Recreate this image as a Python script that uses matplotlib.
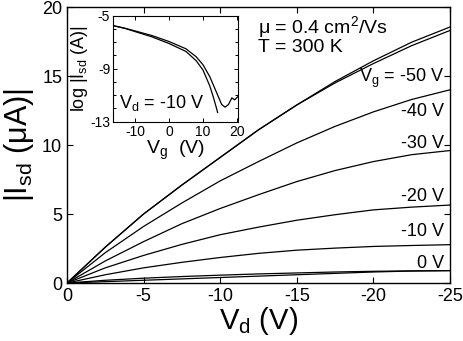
import matplotlib
matplotlib.use('Agg')
import matplotlib.pyplot as plt
from matplotlib.ticker import MultipleLocator

plt.rcParams['font.family'] = ['Liberation Sans', 'DejaVu Sans']
plt.rcParams['mathtext.fontset'] = 'custom'
plt.rcParams['mathtext.rm'] = 'Liberation Sans'
plt.rcParams['mathtext.it'] = 'Liberation Sans'
plt.rcParams['axes.unicode_minus'] = False

# output curves, |Isd| (uA) vs Vd (V)
vd = [0, -2.5, -5, -7.5, -10, -12.5, -15, -17.5, -20, -22.5, -25]
i_m50 = [0, 2.6, 5.0, 7.1, 9.1, 11.1, 12.9, 14.5, 15.9, 17.2, 18.3]
i_m50b = [0, 2.6, 5.0, 7.1, 9.1, 11.1, 12.9, 14.6, 16.1, 17.45, 18.55]
i_m40 = [0, 2.2, 4.1, 5.8, 7.4, 8.8, 10.15, 11.35, 12.4, 13.3, 14.0]
i_m30 = [0, 1.6, 3.0, 4.3, 5.4, 6.4, 7.35, 8.15, 8.8, 9.3, 9.6]
i_m20 = [0, 1.1, 2.0, 2.8, 3.5, 4.05, 4.55, 4.95, 5.3, 5.5, 5.65]
i_m10 = [0, 0.6, 1.1, 1.5, 1.85, 2.15, 2.38, 2.53, 2.65, 2.72, 2.78]
i_0 = [0, 0.2, 0.35, 0.47, 0.57, 0.66, 0.73, 0.8, 0.85, 0.88, 0.9]
i_0b = [0, 0.1, 0.2, 0.3, 0.4, 0.5, 0.6, 0.7, 0.8, 0.87, 0.9]

vg_labels = ['V$_g$ = -50 V', '-40 V', '-30 V', '-20 V', '-10 V', '0 V']
label_y = [14.85, 12.4, 10.1, 6.3, 3.7, 1.45]

# transfer curve (inset), log|Isd| vs Vg
vg_a = [-16.5, -13, -10, -5, 0, 5, 8, 10, 12, 13, 14, 14.3]
log_a = [-5.75, -5.95, -6.2, -6.6, -7.1, -7.7, -8.4, -9.1, -10.3, -11.1, -12.0, -12.3]
vg_b = [-16.5, -13, -10, -5, 0, 5, 8, 10, 12, 14, 15.5, 16.5, 17.5, 18.5, 19.3, 20.3]
log_b = [-5.75, -5.95, -6.15, -6.5, -6.95, -7.5, -8.1, -8.7, -9.6, -10.8, -11.7, -11.9, -11.7, -11.2, -11.35, -11.1]

fig = plt.figure(figsize=(4.63, 3.41), dpi=100)
ax = fig.add_axes([0.1447, 0.170, 0.827, 0.8094])

for ys in [i_m50, i_m50b, i_m40, i_m30, i_m20, i_m10, i_0, i_0b]:
    ax.plot(vd, ys, color='black', lw=0.9)

ax.set_xlim(0, -25)
ax.set_ylim(0, 20)
ax.xaxis.set_major_locator(MultipleLocator(5))
ax.yaxis.set_major_locator(MultipleLocator(5))
ax.tick_params(direction='in', top=True, right=True, labelsize=13, length=4, width=0.8)
for s in ax.spines.values():
    s.set_linewidth(1.0)
ax.set_xlabel('V$_d$ (V)', fontsize=21, labelpad=0)
ax.set_ylabel('|I$_{sd}$ (μA)|', fontsize=22, labelpad=4)

for lab, y in zip(vg_labels, label_y):
    ax.text(-24.6, y, lab, fontsize=13, ha='right', va='center')

ax.text(-12.5, 18.55, 'μ = 0.4 cm$^2$/Vs', fontsize=14, va='center')
ax.text(-12.5, 17.1, 'T = 300 K', fontsize=14, va='center')

ins = fig.add_axes([0.244, 0.643, 0.270, 0.311])
ins.plot(vg_a, log_a, color='black', lw=0.9)
ins.plot(vg_b, log_b, color='black', lw=0.9)
ins.set_xlim(-16.5, 20.3)
ins.set_ylim(-13, -5)
ins.set_xticks([-10, 0, 10, 20])
ins.set_yticks([-13, -9, -5])
ins.yaxis.set_minor_locator(MultipleLocator(1))
ins.tick_params(which='both', direction='in', top=True, right=True, labelsize=10, length=3, width=0.7, pad=2)
ins.tick_params(which='minor', length=2)
ins.set_xlabel('V$_g$  (V)', fontsize=14, labelpad=0)
ins.set_ylabel('log |I$_{sd}$ (A)|', fontsize=13, labelpad=0)
ins.text(-14.6, -11.6, 'V$_d$ = -10 V', fontsize=13, va='center')

fig.savefig('out.png', dpi=100)
